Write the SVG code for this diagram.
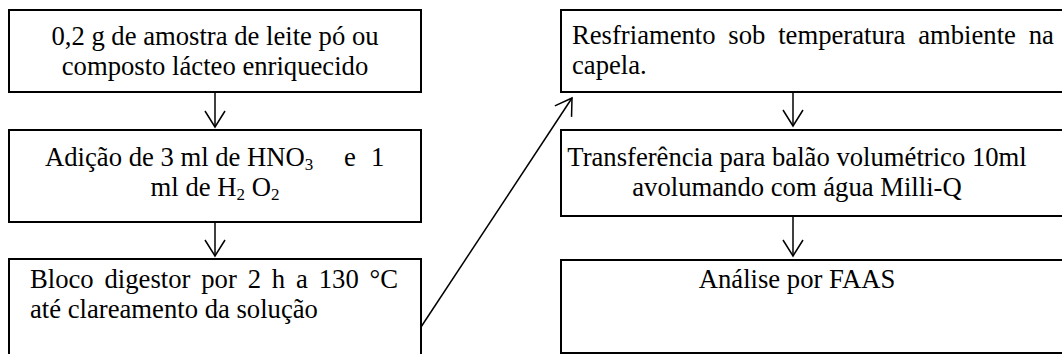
<svg xmlns="http://www.w3.org/2000/svg" width="1062" height="354" viewBox="0 0 1062 354">
<defs>
<style>
.box{fill:#fff;stroke:#000;stroke-width:2}
.t{font-family:"Liberation Serif","Times New Roman",serif;font-size:26.67px;fill:#000}
.c{text-anchor:middle}
.ln{stroke:#000;stroke-width:1.5;fill:none}
</style>
<marker id="ah" markerUnits="userSpaceOnUse" markerWidth="30" markerHeight="30" viewBox="-20 -15 30 30" refX="0" refY="0" orient="auto">
<path d="M-16,-10 L0,0 L-16,10" fill="none" stroke="#000" stroke-width="1.5"/>
</marker>
</defs>
<rect width="1062" height="354" fill="#fff"/>
<g id="n1">
<rect class="box" x="9" y="10" width="412" height="82"/>
<text class="t c" x="215" y="45">0,2 g de amostra de leite pó ou</text>
<text class="t c" x="215" y="75">composto lácteo enriquecido</text>
</g>
<g id="n2">
<rect class="box" x="9" y="130" width="412" height="92"/>
<text class="t" x="45" y="166">Adição de 3 ml de HNO<tspan font-size="17" dy="4">3</tspan></text>
<text class="t" x="344" y="166">e</text>
<text class="t" x="371" y="166">1</text>
<text class="t c" x="215" y="196">ml de H<tspan font-size="17" dy="4">2</tspan><tspan dy="-4"> O</tspan><tspan font-size="17" dy="4">2</tspan></text>
</g>
<g id="n3">
<rect class="box" x="9" y="259" width="412" height="130"/>
<text class="t" x="30" y="288" word-spacing="4.2">Bloco digestor por 2 h a 130 °C</text>
<text class="t" x="30" y="318">até clareamento da solução</text>
</g>
<g id="n4">
<rect class="box" x="561" y="10" width="520" height="82"/>
<text class="t" x="572" y="44" word-spacing="6.1">Resfriamento sob temperatura ambiente na</text>
<text class="t" x="572" y="74">capela.</text>
</g>
<g id="n5">
<rect class="box" x="561" y="130" width="520" height="86"/>
<text class="t c" x="797" y="166">Transferência para balão volumétrico 10ml</text>
<text class="t c" x="797" y="196">avolumando com água Milli-Q</text>
</g>
<g id="n6">
<rect class="box" x="561" y="260" width="520" height="93"/>
<text class="t c" x="797" y="288">Análise por FAAS</text>
</g>
<g id="connectors">
<line class="ln" x1="215" y1="92" x2="215" y2="127" marker-end="url(#ah)"/>
<line class="ln" x1="215" y1="222" x2="215" y2="256" marker-end="url(#ah)"/>
<line class="ln" x1="421" y1="327" x2="572" y2="98" marker-end="url(#ah)"/>
<line class="ln" x1="793" y1="92" x2="793" y2="126" marker-end="url(#ah)"/>
<line class="ln" x1="793" y1="216" x2="793" y2="256" marker-end="url(#ah)"/>
</g>
</svg>
